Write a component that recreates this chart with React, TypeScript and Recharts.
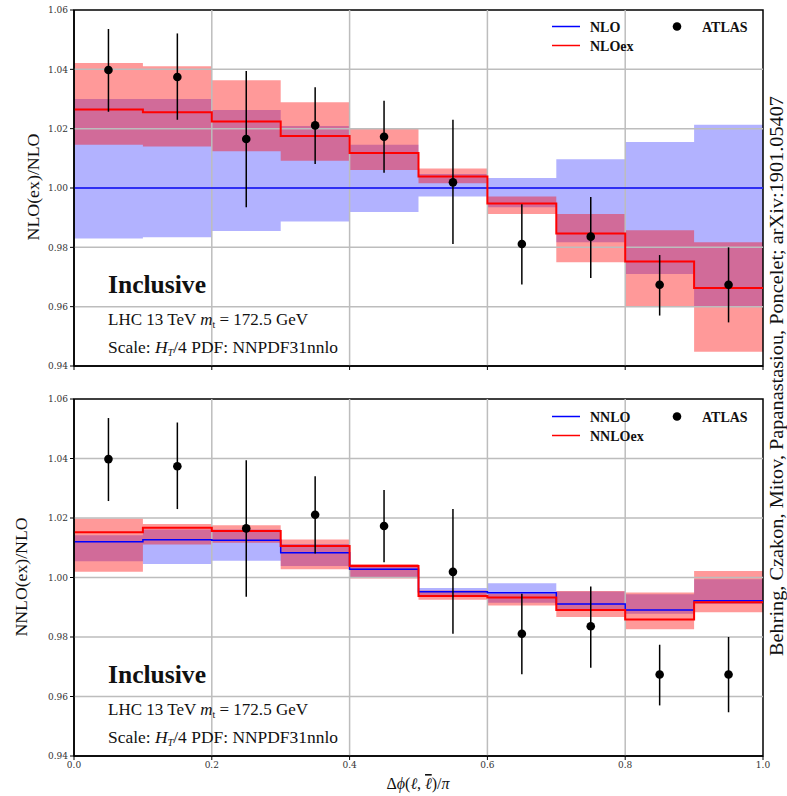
import React from "react";
import {
  ComposedChart,
  Area,
  Line,
  Scatter,
  ErrorBar,
  XAxis,
  YAxis,
  ReferenceLine,
  ReferenceArea,
} from "recharts";

// bin edges / centres of delta phi / pi
const binEdges = [0, 0.1, 0.2, 0.3, 0.4, 0.5, 0.6, 0.7, 0.8, 0.9, 1.0];
const binCenters = [0.05, 0.15, 0.25, 0.35, 0.45, 0.55, 0.65, 0.75, 0.85, 0.95];

// upper panel: NLO and NLOex over NLO
const nloCentral = [1, 1, 1, 1, 1, 1, 1, 1, 1, 1];
const nloLow = [0.983, 0.9834, 0.9855, 0.9887, 0.9919, 0.9971, 0.9935, 0.9817, 0.971, 0.96];
const nloHigh = [1.03, 1.03, 1.0263, 1.0209, 1.0146, 1.0047, 1.0034, 1.0097, 1.0155, 1.0213];
const nloexCentral = [1.0265, 1.0255, 1.0224, 1.0175, 1.0118, 1.0039, 0.9948, 0.9847, 0.9752, 0.9663];
const nloexLow = [1.0146, 1.014, 1.0124, 1.0092, 1.0061, 1.0016, 0.9912, 0.975, 0.96, 0.9448];
const nloexHigh = [1.0421, 1.041, 1.0363, 1.0289, 1.0202, 1.0066, 0.9971, 0.9912, 0.9858, 0.9817];

// lower panel: NNLO and NNLOex over NLO
const nnloCentral = [1.012, 1.0127, 1.0125, 1.0083, 1.0028, 0.9952, 0.9949, 0.9911, 0.9891, 0.9922];
const nnloLow = [1.0055, 1.0045, 1.0056, 1.0039, 1.0, 0.994, 0.9915, 0.989, 0.9878, 0.9911];
const nnloHigh = [1.0142, 1.0161, 1.0161, 1.0113, 1.0035, 0.9965, 0.9981, 0.9953, 0.9944, 0.9994];
const nnloexCentral = [1.0152, 1.0167, 1.0156, 1.0106, 1.0039, 0.9938, 0.9933, 0.9891, 0.9859, 0.9917];
const nnloexLow = [1.0019, 1.0111, 1.0117, 1.0028, 0.9997, 0.9925, 0.9906, 0.9867, 0.9826, 0.9883];
const nnloexHigh = [1.0198, 1.018, 1.0176, 1.0128, 1.0045, 0.9956, 0.9945, 0.9955, 0.995, 1.0022];

// ATLAS data
const atlasValue = [1.0398, 1.0374, 1.0165, 1.0211, 1.0173, 1.0019, 0.9811, 0.9836, 0.9674, 0.9674];
const atlasHigh = [1.0536, 1.0521, 1.0394, 1.034, 1.0294, 1.023, 0.9945, 0.997, 0.9774, 0.98];
const atlasLow = [1.0257, 1.023, 0.9935, 1.0081, 1.0051, 0.9811, 0.9675, 0.9697, 0.957, 0.9547];

const yTicks = [0.94, 0.96, 0.98, 1.0, 1.02, 1.04, 1.06];
const xTicks = [0, 0.2, 0.4, 0.6, 0.8, 1.0];

const BLUE = "#0000ff";
const RED = "#ff0000";
const GRID = "#bdbdbd";
const SERIF = "'Liberation Serif', 'DejaVu Serif', serif";

const stepRows = (
  c1: number[], lo1: number[], hi1: number[],
  c2: number[], lo2: number[], hi2: number[]
) =>
  binEdges.map((x, i) => {
    const k = Math.min(i, c1.length - 1);
    return {
      x,
      c1: c1[k],
      band1: [lo1[k], hi1[k]],
      c2: c2[k],
      band2: [lo2[k], hi2[k]],
    };
  });

const topRows = stepRows(nloCentral, nloLow, nloHigh, nloexCentral, nloexLow, nloexHigh);
const bottomRows = stepRows(nnloCentral, nnloLow, nnloHigh, nnloexCentral, nnloexLow, nnloexHigh);

const atlasPoints = binCenters.map((x, i) => ({
  x,
  y: atlasValue[i],
  err: [atlasValue[i] - atlasLow[i], atlasHigh[i] - atlasValue[i]],
}));

const Dot = (props: any) => <circle cx={props.cx} cy={props.cy} r={4.3} fill="#000" />;

interface PanelProps {
  rows: any[];
  height: number;
  top: number;
  marginTop: number;
  xAxisHeight: number;
  showXLabels: boolean;
}

const Panel = ({ rows, height, top, marginTop, xAxisHeight, showXLabels }: PanelProps) => (
  <div style={{ position: "absolute", left: 0, top }}>
    <ComposedChart
      width={787}
      height={height}
      data={rows}
      margin={{ top: marginTop, right: 24, bottom: 0, left: 0 }}
    >
      <XAxis
        dataKey="x"
        type="number"
        domain={[0, 1]}
        ticks={xTicks}
        height={xAxisHeight}
        tickSize={4}
        tickMargin={2}
        stroke="#000"
        axisLine={{ stroke: "#000", strokeWidth: 1.5 }}
        tickLine={{ stroke: "#000", strokeWidth: 1 }}
        tick={{ fontSize: 9, fill: "#333", fontFamily: "'DejaVu Serif', serif" }}
        tickFormatter={(v: number) => (showXLabels ? v.toFixed(1) : "")}
        allowDataOverflow
      />
      <YAxis
        type="number"
        domain={[0.94, 1.06]}
        ticks={yTicks}
        width={74}
        tickSize={4}
        tickMargin={2}
        axisLine={{ stroke: "#000", strokeWidth: 1.5 }}
        tickLine={{ stroke: "#000", strokeWidth: 1 }}
        tick={{ fontSize: 9, fill: "#333", fontFamily: "'DejaVu Serif', serif" }}
        tickFormatter={(v: number) => v.toFixed(2)}
        allowDataOverflow
      />
      <Area
        type="stepAfter"
        dataKey="band1"
        stroke="none"
        fill={BLUE}
        fillOpacity={0.3}
        dot={false}
        activeDot={false}
        isAnimationActive={false}
      />
      <Area
        type="stepAfter"
        dataKey="band2"
        stroke="none"
        fill={RED}
        fillOpacity={0.4}
        dot={false}
        activeDot={false}
        isAnimationActive={false}
      />
      {yTicks.slice(1, -1).map((v) => (
        <ReferenceLine key={"y" + v} y={v} stroke={GRID} strokeWidth={1.5} />
      ))}
      {xTicks.slice(1, -1).map((v) => (
        <ReferenceLine key={"x" + v} x={v} stroke={GRID} strokeWidth={1.5} />
      ))}
      <Line
        type="stepAfter"
        dataKey="c1"
        stroke={BLUE}
        strokeWidth={1.5}
        dot={false}
        activeDot={false}
        isAnimationActive={false}
      />
      <Line
        type="stepAfter"
        dataKey="c2"
        stroke={RED}
        strokeWidth={2}
        dot={false}
        activeDot={false}
        isAnimationActive={false}
      />
      <Scatter data={atlasPoints} dataKey="y" shape={Dot} isAnimationActive={false}>
        <ErrorBar dataKey="err" direction="y" width={0} stroke="#000" strokeWidth={1.5} />
      </Scatter>
      <ReferenceArea x1={0} x2={1} y1={0.94} y2={1.06} fill="none" stroke="#000" strokeWidth={1.5} />
    </ComposedChart>
  </div>
);

const Annotations = ({ dy, label1, label2, yLabel, yLabelX, yLabelLen }: { dy: number; label1: string; label2: string; yLabel: string; yLabelX: number; yLabelLen: number }) => (
  <g fontFamily={SERIF} fill="#111">
    <text x={108} y={293 + dy} fontSize={25} fontWeight="bold" textLength={98} lengthAdjust="spacingAndGlyphs">
      Inclusive
    </text>
    <text x={108} y={325 + dy} fontSize={17} textLength={200} lengthAdjust="spacingAndGlyphs">
      LHC 13 TeV <tspan fontStyle="italic">m</tspan>
      <tspan fontSize={10} dy={3}>t</tspan>
      <tspan dy={-3}> = 172.5 GeV</tspan>
    </text>
    <text x={108} y={353 + dy} fontSize={17} textLength={230} lengthAdjust="spacingAndGlyphs">
      Scale:  <tspan fontStyle="italic">H</tspan>
      <tspan fontSize={10} dy={3} fontStyle="italic">T</tspan>
      <tspan dy={-3}>/4 PDF: NNPDF31nnlo</tspan>
    </text>
    <text
      transform={`translate(${yLabelX},${187 + dy}) rotate(-90)`}
      textAnchor="middle"
      fontSize={16}
      textLength={yLabelLen}
      lengthAdjust="spacingAndGlyphs"
    >
      {yLabel}
    </text>
    {/* legend */}
    <line x1={552} x2={580} y1={26.5 + dy} y2={26.5 + dy} stroke={BLUE} strokeWidth={1.5} />
    <text x={590} y={31.5 + dy} fontSize={14} fontWeight="bold">{label1}</text>
    <line x1={552} x2={580} y1={45.5 + dy} y2={45.5 + dy} stroke={RED} strokeWidth={1.5} />
    <text x={590} y={50.5 + dy} fontSize={14} fontWeight="bold">{label2}</text>
    <circle cx={677} cy={26.5 + dy} r={4.3} fill="#000" />
    <text x={702} y={31.5 + dy} fontSize={14} fontWeight="bold">ATLAS</text>
  </g>
);

const App: React.FC = () => {
  return (
    <div style={{ position: "absolute", left: 0, top: 0, width: 787, height: 796, background: "#fff" }}>
      <Panel rows={topRows} height={380} top={0} marginTop={10} xAxisHeight={14} showXLabels={false} />
      <Panel rows={bottomRows} height={406} top={390} marginTop={9} xAxisHeight={40} showXLabels={true} />
      <svg
        width={787}
        height={796}
        style={{ position: "absolute", left: 0, top: 0, pointerEvents: "none" }}
      >
        <Annotations dy={0} label1="NLO" label2="NLOex" yLabel="NLO(ex)/NLO" yLabelX={39} yLabelLen={107} />
        <Annotations dy={390} label1="NNLO" label2="NNLOex" yLabel="NNLO(ex)/NLO" yLabelX={27} yLabelLen={119} />
        <text
          transform="translate(783,376) rotate(-90)"
          textAnchor="middle"
          fontSize={18}
          fontFamily={SERIF}
          fill="#111"
          textLength={560}
          lengthAdjust="spacingAndGlyphs"
        >
          Behring, Czakon, Mitov, Papanastasiou, Poncelet; arXiv:1901.05407
        </text>
        <text x={418} y={789} textAnchor="middle" fontSize={16} fontFamily={SERIF} fill="#111">
          Δ<tspan fontStyle="italic">ϕ</tspan>(<tspan fontStyle="italic">ℓ</tspan>, <tspan fontStyle="italic" style={{ textDecoration: "overline" }}>ℓ</tspan>)/<tspan fontStyle="italic">π</tspan>
        </text>
      </svg>
    </div>
  );
};

export default App;
